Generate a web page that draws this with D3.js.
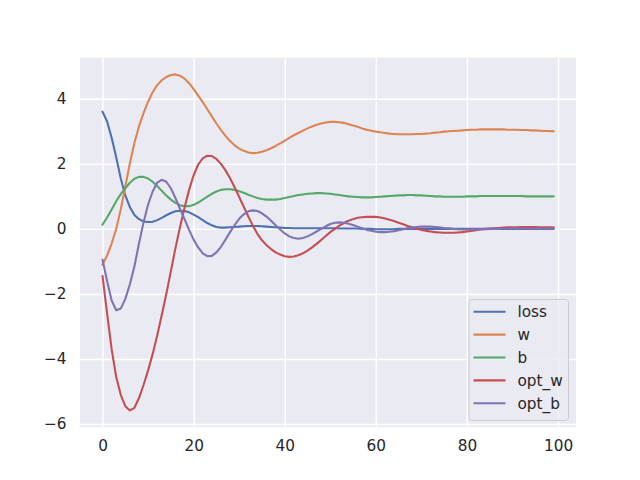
<!DOCTYPE html>
<html>
<head>
<meta charset="utf-8">
<script src="https://cdn.jsdelivr.net/npm/d3@7"></script>
<style>
  html, body { margin: 0; padding: 0; background: #ffffff; }
  svg { display: block; }
</style>
</head>
<body>
<svg id="chart" width="640" height="480"></svg>
<script>
const seriesNames = ["loss", "w", "b", "opt_w", "opt_b"];
const seriesColors = ["#4c72b0", "#dd8452", "#55a868", "#c44e52", "#8172b3"];

const loss = [3.6,3.3,2.8,2.2,1.55,1.03,0.67,0.43,0.3,0.23,
  0.21,0.22,0.27,0.34,0.42,0.49,0.54,0.56,0.55,0.51,
  0.44,0.36,0.27,0.18,0.11,0.06,0.04,0.04,0.05,0.06,
  0.07,0.08,0.09,0.09,0.09,0.08,0.07,0.06,0.05,0.04,
  0.03,0.03,0.02,0.02,0.02,0.02,0.02,0.02,0.02,0.02,
  0.02,0.02,0.01,0.01,0.01,0.01,0.01,0.0,0.0,0.0,
  -0.01,-0.01,-0.01,-0.01,-0.01,0.0,0.0,0.0,0.0,0.0,
  0.0,0.0,0.0,0.0,0.0,0.0,0.0,0.0,0.0,0.0,
  0.0,0.0,0.0,0.0,0.0,0.0,0.0,0.0,0.0,0.0,
  0.0,0.0,0.0,0.0,0.0,0.0,0.0,0.0,0.0,0.0];

const w = [-1.1,-0.82,-0.45,0.0,0.6,1.3,2.02,2.65,3.15,3.56,
  3.91,4.2,4.42,4.57,4.67,4.73,4.75,4.71,4.62,4.48,
  4.3,4.1,3.9,3.68,3.46,3.24,3.04,2.86,2.7,2.57,
  2.47,2.4,2.35,2.33,2.34,2.37,2.42,2.48,2.55,2.63,
  2.71,2.8,2.88,2.95,3.02,3.09,3.15,3.2,3.24,3.27,
  3.29,3.29,3.28,3.26,3.22,3.18,3.14,3.09,3.05,3.02,
  2.99,2.97,2.95,2.93,2.92,2.91,2.91,2.91,2.91,2.92,
  2.92,2.93,2.94,2.96,2.97,2.99,3.0,3.01,3.02,3.03,
  3.04,3.05,3.05,3.06,3.06,3.06,3.06,3.06,3.06,3.05,
  3.05,3.05,3.04,3.04,3.03,3.03,3.02,3.01,3.01,3.0];

const b = [0.13,0.35,0.6,0.85,1.07,1.25,1.42,1.54,1.6,1.6,
  1.55,1.45,1.32,1.17,1.03,0.9,0.8,0.73,0.7,0.7,
  0.74,0.81,0.9,0.99,1.08,1.15,1.2,1.22,1.22,1.2,
  1.16,1.11,1.05,1.0,0.95,0.92,0.9,0.9,0.9,0.92,
  0.95,0.98,1.01,1.04,1.06,1.08,1.09,1.1,1.1,1.09,
  1.08,1.06,1.04,1.02,1.0,0.99,0.98,0.97,0.97,0.97,
  0.98,0.99,1.0,1.01,1.02,1.03,1.03,1.04,1.04,1.03,
  1.03,1.02,1.01,1.0,1.0,0.99,0.99,0.99,0.99,0.99,
  1.0,1.0,1.0,1.01,1.01,1.01,1.01,1.01,1.01,1.01,
  1.01,1.01,1.01,1.0,1.0,1.0,1.0,1.0,1.0,1.0];

const opt_w = [-1.45,-2.6,-3.7,-4.55,-5.1,-5.45,-5.58,-5.5,-5.2,-4.8,
  -4.35,-3.85,-3.28,-2.65,-2.0,-1.3,-0.6,0.05,0.65,1.2,
  1.65,1.98,2.17,2.25,2.24,2.15,2.0,1.8,1.56,1.28,
  0.98,0.68,0.38,0.1,-0.15,-0.35,-0.5,-0.62,-0.72,-0.79,
  -0.84,-0.86,-0.85,-0.81,-0.75,-0.67,-0.57,-0.46,-0.34,-0.22,
  -0.1,0.0,0.1,0.18,0.25,0.3,0.34,0.36,0.37,0.37,
  0.37,0.35,0.32,0.28,0.24,0.19,0.14,0.09,0.05,0.01,
  -0.03,-0.06,-0.08,-0.1,-0.11,-0.12,-0.12,-0.12,-0.11,-0.1,
  -0.08,-0.06,-0.04,-0.02,0.0,0.01,0.02,0.03,0.04,0.05,
  0.05,0.05,0.06,0.06,0.06,0.06,0.05,0.05,0.05,0.05];

const opt_b = [-0.95,-1.6,-2.2,-2.5,-2.45,-2.15,-1.7,-1.15,-0.45,0.2,
  0.75,1.15,1.42,1.51,1.45,1.25,0.95,0.62,0.3,-0.03,
  -0.33,-0.57,-0.75,-0.84,-0.83,-0.72,-0.55,-0.33,-0.1,0.12,
  0.31,0.45,0.54,0.57,0.55,0.48,0.38,0.25,0.11,-0.02,
  -0.14,-0.23,-0.28,-0.3,-0.28,-0.23,-0.16,-0.08,0.0,0.08,
  0.15,0.19,0.2,0.19,0.16,0.12,0.07,0.02,-0.03,-0.06,
  -0.09,-0.1,-0.1,-0.09,-0.07,-0.04,-0.01,0.02,0.04,0.06,
  0.07,0.07,0.07,0.06,0.05,0.03,0.02,0.0,-0.01,-0.02,
  -0.02,-0.02,-0.02,-0.01,-0.01,0.0,0.0,0.0,0.01,0.01,
  0.01,0.01,0.01,0.01,0.01,0.01,0.01,0.01,0.01,0.01];

const xTicks = [0, 20, 40, 60, 80, 100];
const yTicks = [-6, -4, -2, 0, 2, 4];

const allSeries = [loss, w, b, opt_w, opt_b];

(function () {
const svg = d3.select("#chart");
const mLeft = 80, mRight = 576, mTop = 57.6, mBottom = 427.2;
const font = "'DejaVu Sans', sans-serif";

// matplotlib-like 5% margins
const n = loss.length;
const xPad = (n - 1) * 0.05;
const allVals = allSeries.flat();
const yMin = d3.min(allVals), yMax = d3.max(allVals);
const yPad = (yMax - yMin) * 0.05;

const x = d3.scaleLinear().domain([0 - xPad, (n - 1) + xPad]).range([mLeft, mRight]);
const y = d3.scaleLinear().domain([yMin - yPad, yMax + yPad]).range([mBottom, mTop]);

// background
svg.append("rect").attr("x", mLeft).attr("y", mTop)
  .attr("width", mRight - mLeft).attr("height", mBottom - mTop)
  .attr("fill", "#eaeaf2");

// grid
const gx = svg.append("g").attr("transform", `translate(0,${mBottom})`)
  .call(d3.axisBottom(x).tickValues(xTicks).tickSize(-(mBottom - mTop)).tickFormat(""));
gx.select(".domain").remove();
gx.selectAll("line").attr("stroke", "#ffffff").attr("stroke-width", 1.4);

const gy = svg.append("g").attr("transform", `translate(${mLeft},0)`)
  .call(d3.axisLeft(y).tickValues(yTicks).tickSize(-(mRight - mLeft)).tickFormat(""));
gy.select(".domain").remove();
gy.selectAll("line").attr("stroke", "#ffffff").attr("stroke-width", 1.4);

// tick labels
const fmt = v => (v < 0 ? "\u2212" + Math.abs(v) : String(v));
const xl = svg.append("g").attr("transform", `translate(0,${mBottom})`)
  .call(d3.axisBottom(x).tickValues(xTicks).tickSize(0).tickPadding(13).tickFormat(fmt));
xl.select(".domain").remove();
xl.selectAll("text").attr("font-family", font).attr("font-size", "15.3px").attr("fill", "#262626");

const yl = svg.append("g").attr("transform", `translate(${mLeft},0)`)
  .call(d3.axisLeft(y).tickValues(yTicks).tickSize(0).tickPadding(13.5).tickFormat(fmt));
yl.select(".domain").remove();
yl.selectAll("text").attr("font-family", font).attr("font-size", "15.3px").attr("fill", "#262626");

// lines
svg.append("clipPath").attr("id", "clip").append("rect")
  .attr("x", mLeft).attr("y", mTop).attr("width", mRight - mLeft).attr("height", mBottom - mTop);

const line = d3.line().x((d, i) => x(i)).y(d => y(d));
const lg = svg.append("g").attr("clip-path", "url(#clip)");
allSeries.forEach((s, k) => {
  lg.append("path").datum(s).attr("d", line)
    .attr("fill", "none").attr("stroke", seriesColors[k])
    .attr("stroke-width", 2.08).attr("stroke-linejoin", "round").attr("stroke-linecap", "square");
});

// legend
const lgX = 469, lgY = 299.5, lgW = 99.5, lgH = 121;
const leg = svg.append("g");
leg.append("rect").attr("x", lgX).attr("y", lgY).attr("width", lgW).attr("height", lgH)
  .attr("rx", 3).attr("ry", 3)
  .attr("fill", "#eaeaf2").attr("fill-opacity", 0.8)
  .attr("stroke", "#cccccc").attr("stroke-width", 1);
seriesNames.forEach((name, k) => {
  const cy = 311.7 + k * 22.9;
  leg.append("line").attr("x1", 473.5).attr("x2", 505.5).attr("y1", cy).attr("y2", cy)
    .attr("stroke", seriesColors[k]).attr("stroke-width", 2.08);
  leg.append("text").attr("x", 517.5).attr("y", cy).attr("dy", "0.35em")
    .attr("font-family", font).attr("font-size", "15.3px").attr("fill", "#262626")
    .text(name);
});
})();
</script>
</body>
</html>
